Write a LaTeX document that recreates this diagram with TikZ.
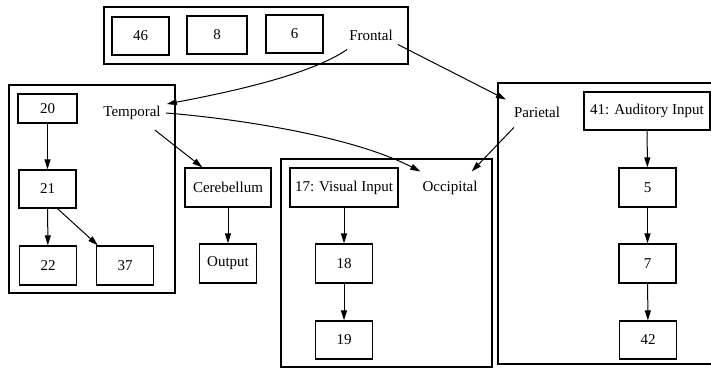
\documentclass[tikz,border=0pt]{standalone}
\usepackage{fontspec}
\setmainfont{Liberation Serif}
\usetikzlibrary{arrows.meta}

\begin{document}
\begin{tikzpicture}[x=1pt, y=-1pt, font=\fontsize{15}{17}\selectfont,
  box/.style={draw, line width=1.3pt, minimum width=57, minimum height=38, inner sep=0pt},
  clus/.style={draw, line width=1.3pt, inner sep=0pt},
  lbl/.style={inner sep=2pt},
  edge/.style={-{Triangle[length=10pt, width=6pt]}, line width=1pt}]
  \useasboundingbox (0,0) rectangle (711,368);
  % clusters
  \node[clus, minimum width=304, minimum height=57] (frontalc) at (256,35.5) {};
  \node[clus, minimum width=166, minimum height=208] (temporalc) at (92,189) {};
  \node[clus, minimum width=211, minimum height=208] (occipitalc) at (386.5,263) {};
  \node[clus, minimum width=220, minimum height=281] (parietalc) at (608,223.5) {};
  % frontal
  \node[box] (b46) at (140.5,36) {46};
  \node[box, minimum width=60] (b8) at (217,35) {8};
  \node[box] (b6) at (294.5,34) {6};
  \node[lbl] (frontal) at (371,35) {Frontal};
  % temporal
  \node[box, minimum width=59, minimum height=29] (b20) at (47.5,108.5) {20};
  \node[lbl] (temporal) at (132,113) {Temporal};
  \node[box] (b21) at (47.5,189) {21};
  \node[box, minimum height=39] (b22) at (48,265.5) {22};
  \node[box, minimum height=39] (b37) at (125,265.5) {37};
  \node[box, minimum width=86, minimum height=39] (cereb) at (228,187.5) {Cerebellum};
  \node[box, minimum height=39] (output) at (228,263.5) {Output};
  % occipital
  \node[box, minimum width=108, minimum height=39] (b17) at (344,187.5) {17: Visual Input};
  \node[lbl] (occipital) at (450,187.5) {Occipital};
  \node[box, minimum height=39] (b18) at (344,263.5) {18};
  \node[box] (b19) at (344,340) {19};
  % parietal
  \node[lbl] (parietal) at (537,112) {Parietal};
  \node[box, minimum width=126] (b41) at (647,111) {41: Auditory Input};
  \node[box, minimum height=39] (b5) at (647.5,187.5) {5};
  \node[box, minimum height=39] (b7) at (647.5,263.5) {7};
  \node[box] (b42) at (648,340) {42};
  % edges
  \draw[edge] ([yshift=-7pt]frontal.south west) .. controls (310,75) and (230,92) .. ([xshift=4pt]temporal.north east);
  \draw[edge] ([shift={(3pt,-2pt)}]frontal.south east) -- ([shift={(-6pt,5pt)}]parietal.north west);
  \draw[edge] ([xshift=3pt]temporal.east) .. controls (230,118) and (350,135) .. ([yshift=7pt]occipital.north west);
  \draw[edge] ([shift={(2pt,-8pt)}]parietal.south west) -- ([shift={(-8pt,7pt)}]occipital.north east);
  \draw[edge] ([shift={(-8pt,-8pt)}]temporal.south east) -- ([xshift=18pt]cereb.north west);
  \draw[edge] ([xshift=10pt]b21.south) -- ([xshift=2pt]b37.north west);
  \foreach \a/\b in {b20/b21, b21/b22, cereb/output, b17/b18, b18/b19, b41/b5, b5/b7, b7/b42}
    \draw[edge] (\a) -- (\b);
\end{tikzpicture}
\end{document}
